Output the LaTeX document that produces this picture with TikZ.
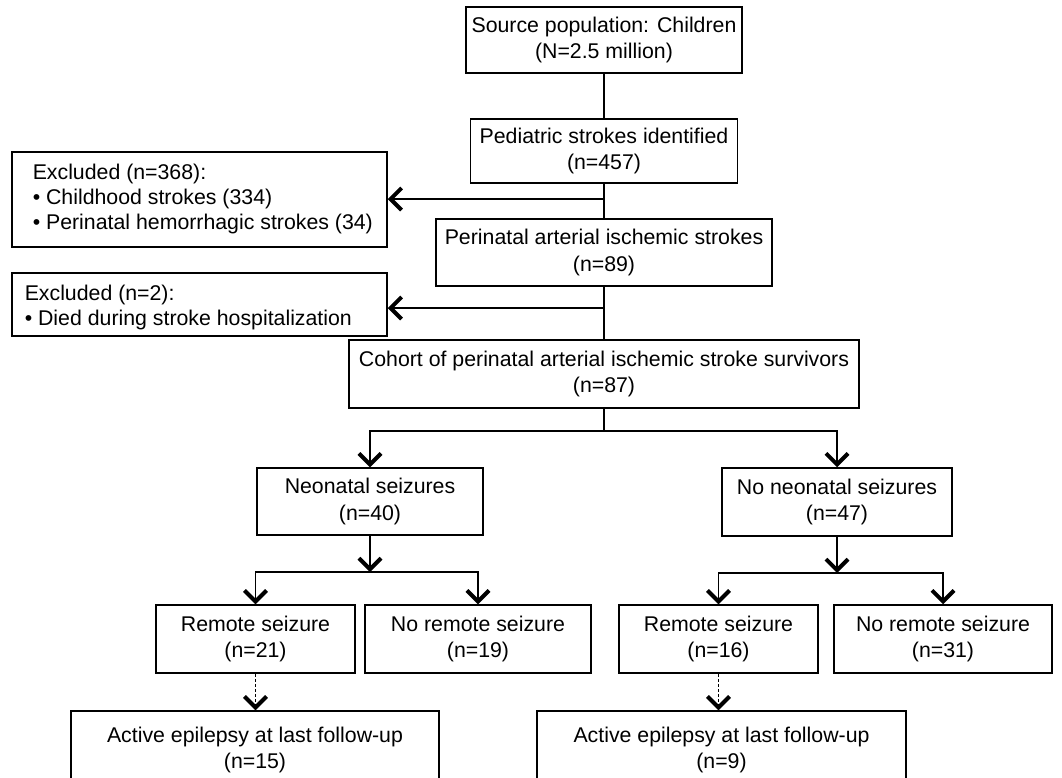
\documentclass[tikz,border=0pt]{standalone}
\usepackage{fontspec}
\setmainfont{Liberation Sans}
\usetikzlibrary{arrows.meta}
\begin{document}
\begin{tikzpicture}[x=1pt,y=-1pt,
  box/.style={draw, line width=1.5pt, inner sep=0pt, align=center,
    font=\fontsize{21.3}{26.5}\selectfont},
  exbox/.style={draw, line width=1.5pt, inner sep=0pt, align=left, anchor=north west,
    font=\fontsize{21.3}{25}\selectfont},
  conn/.style={line width=1.5pt},
  tip/.style={-{Straight Barb[length=11pt,width=22pt,line width=4pt]}},
  arr/.style={line width=1.5pt, tip},
  darr/.style={line width=1pt, dash pattern=on 3pt off 2pt, tip}
]
\useasboundingbox (0,0) rectangle (1062,777);
\clip (0,0) rectangle (1062,777);
% main column
\node[box, minimum width=276pt, minimum height=66pt] (src) at (604,40) {Source population: Children\\(N=2.5 million)};
\node[box, minimum width=267pt, minimum height=64pt] (ped) at (604,151) {Pediatric strokes identified\\(n=457)};
\node[box, minimum width=336pt, minimum height=67pt] (peri) at (604,252.5) {Perinatal arterial ischemic strokes\\(n=89)};
\node[box, minimum width=510pt, minimum height=68pt] (coh) at (604,374) {Cohort of perinatal arterial ischemic stroke survivors\\(n=87)};
% exclusions
\node[box, minimum width=375pt, minimum height=95pt] (exc1) at (199.5,199.5) {};
\node[exbox, draw=none, align=left, anchor=west] (exc1t) at (32,199) {Excluded (n=368):\\\textbullet{} Childhood strokes (334)\\\textbullet{} Perinatal hemorrhagic strokes (34)};
\node[box, minimum width=375pt, minimum height=63pt] (exc2) at (199.5,304.5) {};
\node[exbox, draw=none, align=left, anchor=west] (exc2t) at (24,307) {Excluded (n=2):\\\textbullet{} Died during stroke hospitalization};
% second level
\node[box, minimum width=226pt, minimum height=67pt] (neo) at (370,501.5) {Neonatal seizures\\(n=40)};
\node[box, minimum width=230pt, minimum height=68pt] (noneo) at (837,502) {No neonatal seizures\\(n=47)};
% third level
\node[box, minimum width=199pt, minimum height=68pt] (rs1) at (255.5,639) {Remote seizure\\(n=21)};
\node[box, minimum width=226pt, minimum height=68pt] (nrs1) at (478,639) {No remote seizure\\(n=19)};
\node[box, minimum width=199pt, minimum height=68pt] (rs2) at (718.5,639) {Remote seizure\\(n=16)};
\node[box, minimum width=218pt, minimum height=68pt] (nrs2) at (943,639) {No remote seizure\\(n=31)};
% bottom
\node[box, minimum width=368pt, minimum height=78pt] (act1) at (255,750) {Active epilepsy at last follow-up\\(n=15)};
\node[box, minimum width=369pt, minimum height=78pt] (act2) at (721.5,750) {Active epilepsy at last follow-up\\(n=9)};
% connectors main
\draw[conn] (src.south) -- (ped.north);
\draw[conn] (ped.south) -- (peri.north);
\coordinate (b1) at (604,199);
\draw[arr] (b1) -- (exc1.east |- b1);
\draw[conn] (peri.south) -- (coh.north);
\coordinate (b2) at (604,308);
\draw[arr] (b2) -- (exc2.east |- b2);
% split cohort
\coordinate (b3) at (604,431);
\draw[conn] (coh.south) -- (b3);
\draw[arr] (b3) -| (neo.north);
\draw[arr] (b3) -| (noneo.north);
% neonatal split
\coordinate (b4) at (370,572);
\draw[arr] (neo.south) -- (b4);
\draw[arr] (b4) -| (rs1.north);
\draw[arr] (b4) -| (nrs1.north);
\coordinate (b5) at (837,573);
\draw[arr] (noneo.south) -- (b5);
\draw[arr] (b5) -| (rs2.north);
\draw[arr] (b5) -| (nrs2.north);
% dashed
\draw[darr] (rs1.south) -- (rs1.south |- act1.north);
\draw[darr] (rs2.south) -- (rs2.south |- act2.north);
\end{tikzpicture}
\end{document}
